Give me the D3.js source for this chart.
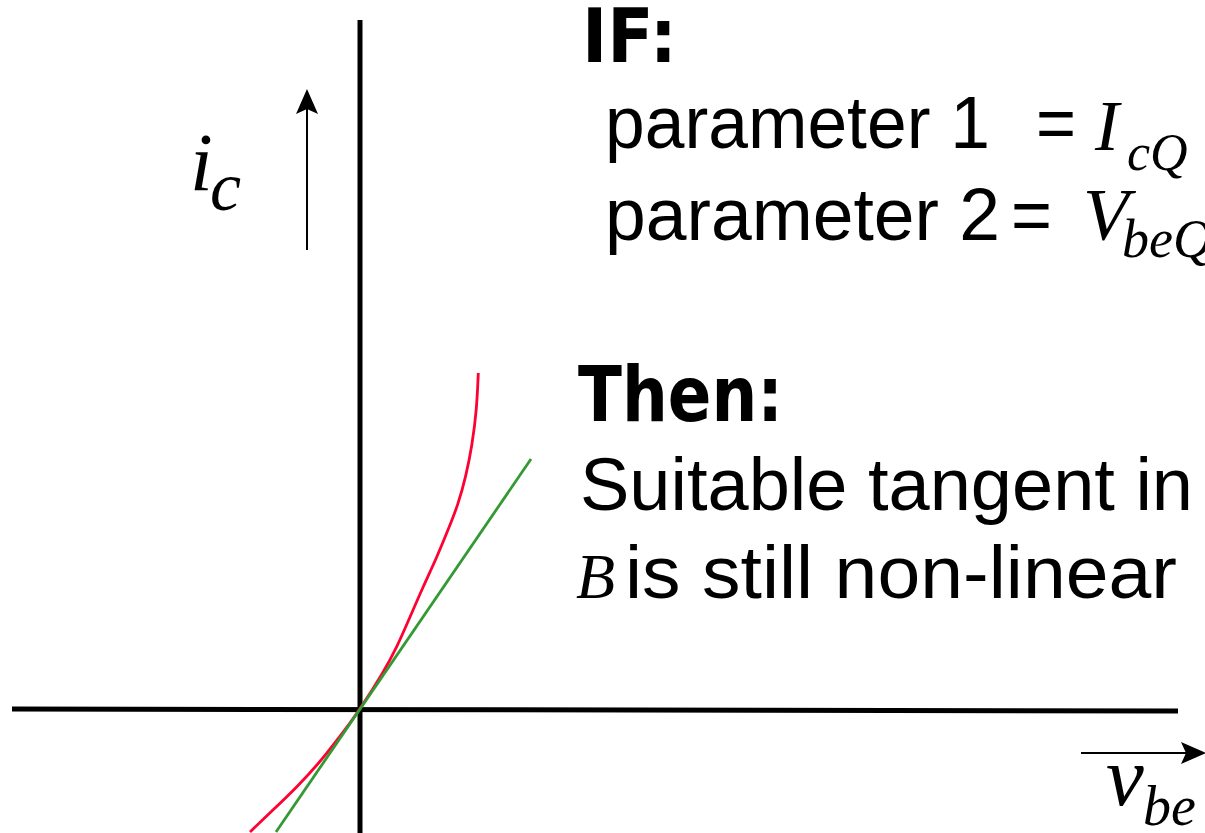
<!DOCTYPE html>
<html>
<head>
<meta charset="utf-8">
<script src="https://cdn.jsdelivr.net/npm/d3@7"></script>
<style>
  html, body { margin: 0; padding: 0; background: #fff; }
  svg { display: block; }
</style>
</head>
<body>
<svg id="chart"></svg>
<script>
const width = 1205;
const height = 833;

// transistor curve i_c(v_be), arbitrary units, origin = Q point
const curveVbe = [-1.10, -0.87, -0.63, -0.40, -0.23, -0.10, 0, 0.23, 0.37, 0.50, 0.63, 0.77, 0.88, 0.98, 1.06, 1.12, 1.167, 1.183];
const curveIc  = [-1.23, -1.01, -0.78, -0.53, -0.31, -0.14, 0, 0.36, 0.62, 0.92, 1.22, 1.52, 1.79, 2.04, 2.33, 2.63, 2.99, 3.36];

// tangent line through the Q point
const tangentVbe = [-0.84, 1.71];
const tangentIc  = [-1.23, 2.50];

// axis extents
const xExtent = [-3.48, 8.18];
const yExtent = [-1.24, 6.89];

const svg = d3.select("#chart")
  .attr("width", width)
  .attr("height", height);

const x = d3.scaleLinear().domain(xExtent).range([12, 1178]);
const y = d3.scaleLinear().domain(yExtent).range([833, 20]);

// axes
svg.append("line")
  .attr("x1", x(0)).attr("x2", x(0))
  .attr("y1", y(yExtent[1])).attr("y2", y(yExtent[0]))
  .attr("stroke", "#000").attr("stroke-width", 5);

svg.append("line")
  .attr("x1", x(xExtent[0])).attr("x2", x(xExtent[1]))
  .attr("y1", y(0)).attr("y2", y(0) + 2)
  .attr("stroke", "#000").attr("stroke-width", 5);

const line = d3.line()
  .x(d => x(d[0]))
  .y(d => y(d[1]));

svg.append("path")
  .datum(d3.zip(curveVbe, curveIc))
  .attr("d", line.curve(d3.curveBasis))
  .attr("fill", "none")
  .attr("stroke", "#ff0033")
  .attr("stroke-width", 2.8);

svg.append("path")
  .datum(d3.zip(tangentVbe, tangentIc))
  .attr("d", d3.line().x(d => x(d[0])).y(d => y(d[1])))
  .attr("fill", "none")
  .attr("stroke", "#339933")
  .attr("stroke-width", 2.8);

// direction arrows
svg.append("line")
  .attr("x1", 307).attr("x2", 307).attr("y1", 250).attr("y2", 100)
  .attr("stroke", "#000").attr("stroke-width", 2);
svg.append("path")
  .attr("d", "M307,89 L318,114 L307,109 L296,114 Z")
  .attr("fill", "#000");

svg.append("line")
  .attr("x1", 1081).attr("x2", 1196).attr("y1", 753).attr("y2", 753)
  .attr("stroke", "#000").attr("stroke-width", 2);
svg.append("path")
  .attr("d", "M1206,753 L1181,742 L1186,753 L1181,764 Z")
  .attr("fill", "#000");

// math labels (italic serif)
const serif = "'Liberation Serif', serif";
const mathLabels = [
  { t: "i", x: 190, y: 190, s: 82 },
  { t: "c", x: 210, y: 210, s: 70 },
  { t: "I", x: 1095, y: 150, s: 72 },
  { t: "cQ", x: 1127, y: 170, s: 52 },
  { t: "V", x: 1083, y: 240, s: 75 },
  { t: "beQ", x: 1122, y: 257, s: 54 },
  { t: "B", x: 576, y: 598, s: 64 },
  { t: "v", x: 1106, y: 805, s: 85 },
  { t: "be", x: 1143, y: 825, s: 56 }
];
svg.selectAll("text.math")
  .data(mathLabels)
  .enter().append("text")
  .attr("class", "math")
  .attr("x", d => d.x).attr("y", d => d.y)
  .attr("font-family", serif)
  .attr("font-style", "italic")
  .attr("font-size", d => d.s)
  .text(d => d.t);

// headings
const headings = [
  { t: "IF:", x: 582, y: 62, s: 74, w: 95 },
  { t: "Then:", x: 578, y: 421, s: 76, w: 205 }
];
svg.selectAll("text.head")
  .data(headings)
  .enter().append("text")
  .attr("class", "head")
  .attr("x", d => d.x).attr("y", d => d.y)
  .attr("font-family", "'DejaVu Sans', sans-serif")
  .attr("font-weight", "bold")
  .attr("font-size", d => d.s)
  .attr("textLength", d => d.w)
  .attr("lengthAdjust", "spacingAndGlyphs")
  .text(d => d.t);

// body text
const bodyText = [
  { t: "parameter 1", x: 605, y: 148, w: 385 },
  { t: "=", x: 1036, y: 148, w: 40 },
  { t: "parameter 2", x: 605, y: 240, w: 395 },
  { t: "=", x: 1011, y: 240, w: 41 },
  { t: "Suitable tangent in", x: 580, y: 510, w: 613 },
  { t: "is still non-linear", x: 625, y: 598, w: 552 }
];
svg.selectAll("text.body")
  .data(bodyText)
  .enter().append("text")
  .attr("class", "body")
  .attr("x", d => d.x).attr("y", d => d.y)
  .attr("font-family", "'Liberation Sans', Arial, sans-serif")
  .attr("font-size", 74)
  .attr("textLength", d => d.w)
  .attr("lengthAdjust", "spacingAndGlyphs")
  .text(d => d.t);
</script>
</body>
</html>
